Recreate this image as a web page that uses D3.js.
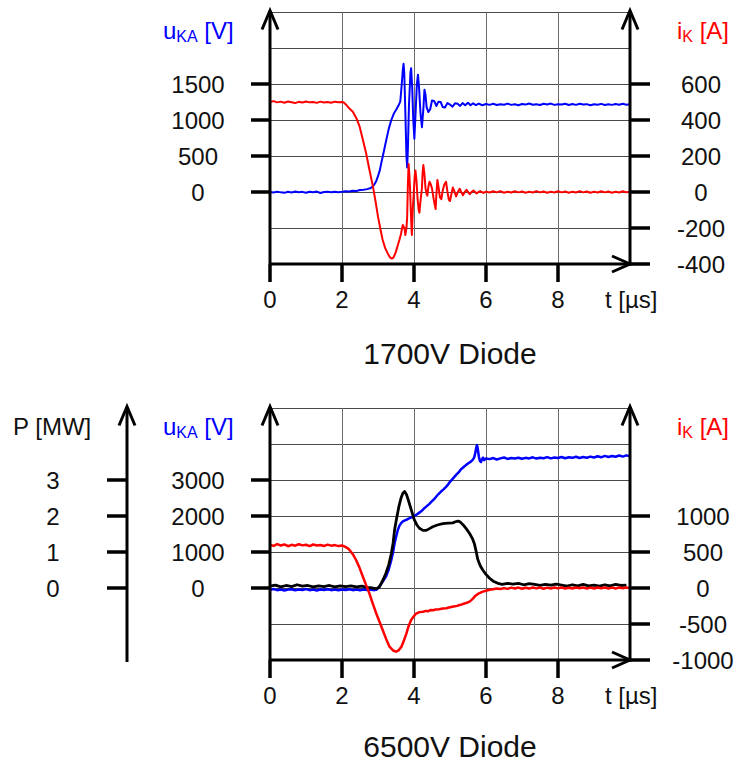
<!DOCTYPE html>
<html><head><meta charset="utf-8">
<script src="https://cdn.jsdelivr.net/npm/d3@7"></script>
<style>
html,body{margin:0;padding:0;background:#fff;}
svg{display:block;}
text{font-family:"Liberation Sans",Arial,sans-serif;}
</style></head>
<body>
<svg id="chart" width="736" height="762"></svg>
<script>
// ---------- DATA ----------
const timeTicks = [0, 2, 4, 6, 8];
const timeGrid = [2, 4, 6, 8];

// 1700V diode
const topVoltTicks = [0, 500, 1000, 1500];
const topCurrTicks = [-400, -200, 0, 200, 400, 600];
const topVoltGrid = [-500, 0, 500, 1000, 1500, 2000, 2500];
const topVoltage = [[0,0],[0.1,-8],[0.2,5],[0.3,-5],[0.4,-12],[0.5,3],[0.6,-6],[0.7,8],[0.8,-4],[0.9,2],[1.0,-10],[1.1,4],[1.2,-3],[1.3,6],[1.4,-14],[1.5,0],[1.6,5],[1.7,-4],[1.8,3],[1.9,-2],[2.0,2],
 [2.1,10],[2.2,6],[2.3,18],[2.4,15],[2.5,28],[2.6,32],[2.7,40],[2.8,55],[2.88,90],[2.95,150],[3.0,220],[3.05,300],[3.09,400],[3.16,560],[3.23,722],[3.3,880],[3.37,1000],[3.44,1090],[3.5,1140],[3.57,1200],[3.62,1260],[3.66,1500],[3.69,1700],[3.71,1780],[3.73,1650],[3.76,1100],[3.79,500],[3.81,340],[3.83,600],[3.86,1200],[3.9,1650],[3.92,1720],[3.95,1450],[3.98,1000],[4.01,740],[4.04,1050],[4.08,1500],[4.11,1630],[4.14,1450],[4.18,1100],[4.22,900],[4.26,1150],[4.29,1420],[4.32,1350],[4.35,1180],[4.4,1110],[4.45,1150],[4.5,1270],[4.56,1265],[4.62,1195],[4.68,1255],[4.74,1250],[4.8,1180],[4.86,1175],[4.93,1235],[5.0,1215],[5.07,1185],[5.14,1232],[5.21,1225],[5.28,1195],[5.35,1235],[5.42,1205],[5.5,1240],[5.57,1205],[5.64,1232],[5.72,1208],[5.8,1228],[5.9,1205],[6.0,1222],
 [6.1,1210],[6.2,1225],[6.3,1208],[6.4,1220],[6.5,1212],[6.6,1228],[6.7,1210],[6.8,1218],[6.9,1205],[7.0,1222],[7.1,1214],[7.2,1230],[7.3,1212],[7.4,1220],[7.5,1208],[7.6,1226],[7.7,1215],[7.8,1228],[7.9,1210],[8.0,1220],[8.1,1214],[8.2,1225],[8.3,1208],[8.4,1222],[8.5,1210],[8.6,1226],[8.7,1214],[8.8,1220],[8.9,1206],[9.0,1218],[9.1,1212],[9.2,1224],[9.3,1208],[9.4,1218],[9.5,1210],[9.6,1222],[9.7,1212],[9.8,1225],[9.9,1212],[10,1218]];
const topCurrent = [[0,500],[0.1,505],[0.2,498],[0.3,502],[0.4,496],[0.5,503],[0.6,499],[0.7,494],[0.8,501],[0.9,497],[1.0,503],[1.1,498],[1.2,500],[1.3,495],[1.4,502],[1.5,497],[1.6,500],[1.7,496],[1.8,502],[1.9,499],[2.0,500],[2.05,497],[2.1,488],[2.2,465],[2.3,446],[2.4,410],[2.49,363],[2.58,290],[2.67,215],[2.76,125],[2.86,30],[2.93,-50],[3.0,-137],[3.07,-210],[3.13,-267],[3.2,-312],[3.27,-341],[3.33,-362],[3.38,-370],[3.42,-366],[3.46,-352],[3.5,-330],[3.55,-296],[3.6,-262],[3.64,-232],[3.67,-200],[3.69,-183],[3.72,-195],[3.74,-205],[3.76,-239],[3.79,-200],[3.81,-140],[3.83,40],[3.85,155],[3.87,100],[3.89,20],[3.92,-150],[3.94,-239],[3.97,-80],[3.99,-17],[4.02,90],[4.04,120],[4.07,60],[4.1,-40],[4.13,-100],[4.15,-115],[4.18,-50],[4.22,20],[4.24,110],[4.26,150],[4.29,100],[4.32,20],[4.35,-10],[4.37,-20],[4.4,30],[4.43,57],[4.46,45],[4.5,20],[4.55,-44],[4.6,-95],[4.62,-20],[4.65,67],[4.68,30],[4.72,-30],[4.76,-40],[4.8,10],[4.84,40],[4.89,57],[4.93,0],[4.97,-45],[5.0,-50],[5.04,-10],[5.08,25],[5.12,5],[5.17,-25],[5.22,0],[5.27,18],[5.31,0],[5.36,-18],[5.41,0],[5.46,12],[5.5,0],[5.55,-12],[5.6,0],[5.65,8],[5.7,0],[5.74,-8],[5.79,0],[5.84,5],[5.88,0],[5.93,-5],[6.0,2],
 [6.1,-3],[6.2,4],[6.3,-2],[6.4,5],[6.5,-4],[6.6,2],[6.7,-3],[6.8,4],[6.9,-2],[7.0,3],[7.1,-4],[7.2,2],[7.3,-3],[7.4,5],[7.5,-2],[7.6,3],[7.7,-4],[7.8,2],[7.9,-3],[8.0,4],[8.1,-2],[8.2,3],[8.3,-4],[8.4,2],[8.5,-3],[8.6,5],[8.7,-2],[8.8,3],[8.9,-4],[9.0,2],[9.1,-3],[9.2,4],[9.3,-2],[9.4,3],[9.5,-4],[9.6,2],[9.7,-3],[9.8,4],[9.9,-2],[10,1]];

// 6500V diode
const botPowerTicks = [0, 1, 2, 3];
const botVoltTicks = [0, 1000, 2000, 3000];
const botCurrTicks = [-1000, -500, 0, 500, 1000];
const botVoltGrid = [-1000, 0, 1000, 2000, 3000, 4000, 5000];
const botVoltage = [[0,-50],[0.1,-30],[0.2,-60],[0.3,-40],[0.4,-70],[0.5,-45],[0.6,-35],[0.7,-65],[0.8,-40],[0.9,-55],[1.0,-30],[1.1,-60],[1.2,-45],[1.3,-70],[1.4,-40],[1.5,-55],[1.6,-35],[1.7,-60],[1.8,-45],[1.9,-65],[2.0,-40],[2.1,-55],[2.2,-35],[2.3,-60],[2.4,-45],[2.5,-65],[2.6,-40],[2.7,-55],[2.8,-45],[2.9,-60],[2.97,-40],[3.04,40],[3.1,130],[3.16,220],[3.22,314],[3.3,520],[3.37,780],[3.42,1000],[3.46,1240],[3.51,1450],[3.55,1610],[3.6,1740],[3.65,1810],[3.69,1850],[3.75,1880],[3.82,1910],[3.88,1940],[3.95,1970],[4.0,2000],[4.06,2030],[4.13,2080],[4.2,2130],[4.27,2200],[4.34,2260],[4.42,2330],[4.5,2410],[4.56,2470],[4.62,2540],[4.68,2610],[4.75,2680],[4.82,2740],[4.89,2810],[4.95,2880],[5.0,2950],[5.08,3040],[5.17,3140],[5.24,3210],[5.3,3290],[5.38,3360],[5.45,3420],[5.52,3470],[5.58,3510],[5.63,3560],[5.67,3620],[5.7,3740],[5.73,3900],[5.75,3970],[5.77,3880],[5.8,3660],[5.83,3530],[5.86,3500],[5.89,3580],[5.92,3620],[5.95,3550],[6.0,3600],
 [6.1,3580],[6.2,3610],[6.3,3570],[6.4,3600],[6.5,3625],[6.6,3585],[6.7,3610],[6.8,3595],[6.9,3620],[7.0,3590],[7.1,3615],[7.2,3600],[7.3,3630],[7.4,3595],[7.5,3620],[7.6,3605],[7.7,3635],[7.8,3600],[7.9,3625],[8.0,3610],[8.1,3640],[8.2,3605],[8.3,3630],[8.4,3615],[8.5,3645],[8.6,3610],[8.7,3640],[8.8,3620],[8.9,3650],[9.0,3625],[9.1,3660],[9.2,3630],[9.3,3670],[9.4,3640],[9.5,3665],[9.6,3645],[9.7,3680],[9.8,3650],[9.9,3685],[10,3660]];
const botCurrent = [[0,600],[0.1,585],[0.2,610],[0.3,590],[0.4,605],[0.5,580],[0.6,600],[0.7,588],[0.8,608],[0.9,592],[1.0,600],[1.1,582],[1.2,604],[1.3,590],[1.4,598],[1.5,584],[1.6,602],[1.7,588],[1.8,596],[1.9,582],[2.0,590],[2.08,575],[2.15,555],[2.21,528],[2.3,470],[2.39,389],[2.48,290],[2.58,157],[2.67,40],[2.76,-74],[2.85,-210],[2.95,-351],[3.05,-480],[3.13,-583],[3.22,-700],[3.32,-815],[3.42,-868],[3.5,-885],[3.58,-862],[3.65,-815],[3.72,-730],[3.79,-629],[3.85,-530],[3.92,-444],[4.0,-390],[4.06,-355],[4.15,-335],[4.25,-330],[4.33,-318],[4.4,-322],[4.47,-305],[4.53,-308],[4.6,-298],[4.7,-296],[4.8,-285],[4.89,-282],[5.0,-268],[5.1,-258],[5.2,-248],[5.26,-236],[5.33,-228],[5.4,-215],[5.47,-205],[5.54,-190],[5.6,-165],[5.65,-140],[5.7,-110],[5.75,-92],[5.82,-70],[5.91,-51],[6.0,-38],[6.1,-25],[6.19,-18],[6.3,-8],[6.4,-15],[6.5,-2],[6.6,-12],[6.7,5],[6.8,-8],[6.9,6],[7.0,-10],[7.1,4],[7.2,-8],[7.3,8],[7.4,-5],[7.5,6],[7.6,-10],[7.7,5],[7.8,-6],[7.9,8],[8.0,-5],[8.1,7],[8.2,-8],[8.3,4],[8.4,-6],[8.5,8],[8.6,-4],[8.7,6],[8.8,-8],[8.9,5],[9.0,-6],[9.1,8],[9.2,-4],[9.3,6],[9.4,-8],[9.5,5],[9.6,-6],[9.7,7],[9.8,-4],[9.9,6],[10,-2]];
const botPower = [[0,0.05],[0.15,0.08],[0.3,0.03],[0.45,0.07],[0.6,0.04],[0.75,0.09],[0.9,0.05],[1.05,0.07],[1.2,0.03],[1.35,0.06],[1.5,0.04],[1.65,0.07],[1.8,0.03],[1.95,0.06],[2.1,0.04],[2.25,0.06],[2.4,0.03],[2.55,0.05],[2.7,0.02],[2.85,0.0],[2.95,-0.02],[3.03,0.02],[3.09,0.13],[3.15,0.25],[3.22,0.41],[3.3,0.65],[3.37,0.96],[3.42,1.25],[3.46,1.61],[3.52,1.95],[3.58,2.26],[3.64,2.5],[3.69,2.63],[3.74,2.68],[3.79,2.6],[3.84,2.45],[3.9,2.25],[3.96,2.05],[4.01,1.89],[4.08,1.75],[4.15,1.66],[4.25,1.6],[4.34,1.6],[4.43,1.65],[4.52,1.7],[4.65,1.75],[4.8,1.79],[4.95,1.8],[5.08,1.81],[5.15,1.84],[5.22,1.86],[5.29,1.83],[5.36,1.76],[5.45,1.65],[5.54,1.52],[5.62,1.38],[5.68,1.22],[5.73,1.0],[5.77,0.8],[5.84,0.62],[5.91,0.5],[6.0,0.38],[6.1,0.27],[6.2,0.19],[6.33,0.13],[6.45,0.1],[6.6,0.13],[6.75,0.11],[6.9,0.13],[7.05,0.09],[7.2,0.12],[7.35,0.1],[7.5,0.07],[7.65,0.1],[7.8,0.08],[7.95,0.11],[8.1,0.08],[8.25,0.05],[8.4,0.09],[8.55,0.06],[8.7,0.1],[8.85,0.06],[9.0,0.08],[9.15,0.05],[9.3,0.09],[9.45,0.06],[9.6,0.1],[9.75,0.07],[9.9,0.08]];

// ---------- DRAW ----------
const svg = d3.select("#chart");
const BLUE = "#0000ff", RED = "#ff0000", INK = "#000";
const x = d3.scaleLinear().domain([0, 10]).range([270, 630]);

function upArrow(g, px, tipY) {
  g.append("path").attr("d", `M${px-8},${tipY+19} L${px},${tipY} L${px+8},${tipY+19}`)
    .attr("fill", "none").attr("stroke", INK).attr("stroke-width", 3);
}
function rightArrow(g, tipX, py) {
  g.append("path").attr("d", `M${tipX-18},${py-8} L${tipX},${py} L${tipX-18},${py+8}`)
    .attr("fill", "none").attr("stroke", INK).attr("stroke-width", 3);
}
function labelSub(g, px, py, main, sub, rest, color) {
  const t = g.append("text").attr("x", px).attr("y", py).attr("fill", color).attr("font-size", 24);
  t.append("tspan").text(main);
  if (sub) t.append("tspan").attr("font-size", 16).attr("dy", 3.5).text(sub);
  t.append("tspan").attr("font-size", 24).attr("dy", sub ? -3.5 : 0).text(rest);
}

function panel(cfg) {
  const g = svg.append("g");
  const yV = cfg.yV, yI = cfg.yI;
  const top = yV.range()[1], bot = yV.range()[0];
  // grid
  g.selectAll(".hg").data(cfg.voltGrid).join("line")
    .attr("x1", x(0)).attr("x2", x(10)).attr("y1", d => yV(d)+0.5).attr("y2", d => yV(d)+0.5)
    .attr("stroke", "#4a4a4a").attr("stroke-width", 1);
  g.selectAll(".vg").data(timeGrid).join("line")
    .attr("x1", d => x(d)+0.5).attr("x2", d => x(d)+0.5).attr("y1", top).attr("y2", bot)
    .attr("stroke", "#6a6a6a").attr("stroke-width", 1);
  // series
  cfg.series.forEach(s => {
    const line = d3.line().x(d => x(d[0])).y(d => s.scale(d[1]));
    g.append("path").datum(s.data).attr("d", line).attr("fill", "none")
      .attr("stroke", s.color).attr("stroke-width", s.width).attr("stroke-linejoin", "round");
  });
  // axes
  g.append("line").attr("x1", x(0)).attr("x2", x(0)).attr("y1", bot).attr("y2", top-1)
    .attr("stroke", INK).attr("stroke-width", 3);
  g.append("line").attr("x1", x(10)).attr("x2", x(10)).attr("y1", bot+1.5).attr("y2", top-1)
    .attr("stroke", INK).attr("stroke-width", 3);
  g.append("line").attr("x1", x(0)).attr("x2", x(10)).attr("y1", bot).attr("y2", bot)
    .attr("stroke", INK).attr("stroke-width", 3);
  upArrow(g, x(0), top-1.5);
  upArrow(g, x(10), top-1.5);
  rightArrow(g, x(10), bot);
  // x ticks
  g.selectAll(".xt").data(timeTicks).join("line")
    .attr("x1", d => x(d)).attr("x2", d => x(d)).attr("y1", bot).attr("y2", bot+18)
    .attr("stroke", INK).attr("stroke-width", 3.5);
  g.selectAll(".xl").data(timeTicks).join("text")
    .attr("x", d => x(d)).attr("y", bot+44).attr("text-anchor", "middle")
    .attr("font-size", 24).attr("fill", "#111").text(d => d);
  g.append("text").attr("x", 605).attr("y", bot+44).attr("font-size", 24).attr("fill", "#111").text("t [µs]");
  // left voltage ticks
  g.selectAll(".lt").data(cfg.voltTicks).join("line")
    .attr("x1", 251).attr("x2", x(0)).attr("y1", d => yV(d)).attr("y2", d => yV(d))
    .attr("stroke", INK).attr("stroke-width", 3.5);
  g.selectAll(".ll").data(cfg.voltTicks).join("text")
    .attr("x", 198).attr("y", d => yV(d)).attr("dy", "0.36em").attr("text-anchor", "middle")
    .attr("font-size", 24).attr("fill", "#111").text(d => d);
  // right current ticks
  g.selectAll(".rt").data(cfg.currTicks).join("line")
    .attr("x1", x(10)).attr("x2", 650).attr("y1", d => yI(d)).attr("y2", d => yI(d))
    .attr("stroke", INK).attr("stroke-width", 3.5);
  g.selectAll(".rl").data(cfg.currTicks).join("text")
    .attr("x", cfg.rightLabelX).attr("y", d => yI(d)).attr("dy", "0.36em").attr("text-anchor", "middle")
    .attr("font-size", 24).attr("fill", "#111").text(d => d);
  // axis titles
  labelSub(g, 163, top+26.5, "u", "KA", " [V]", BLUE);
  labelSub(g, 677, top+26.5, "i", "K", " [A]", RED);
  g.append("text").attr("x", 450).attr("y", cfg.titleY).attr("text-anchor", "middle")
    .attr("font-size", 30).attr("fill", "#111").text(cfg.title);
  return g;
}

// Top panel
const yTopV = d3.scaleLinear().domain([-1000, 2500]).range([264, 12]);
const yTopI = d3.scaleLinear().domain([-400, 1000]).range([264, 12]);
panel({
  yV: yTopV, yI: yTopI, voltGrid: topVoltGrid, voltTicks: topVoltTicks, currTicks: topCurrTicks,
  rightLabelX: 701, title: "1700V Diode", titleY: 364,
  series: [
    {data: topVoltage, scale: yTopV, color: BLUE, width: 2},
    {data: topCurrent, scale: yTopI, color: RED, width: 2}
  ]
});

// Bottom panel
const yBotV = d3.scaleLinear().domain([-2000, 5000]).range([660, 408]);
const yBotI = d3.scaleLinear().domain([-1000, 2500]).range([660, 408]);
const yBotP = d3.scaleLinear().domain([-2, 5]).range([660, 408]);
const gb = panel({
  yV: yBotV, yI: yBotI, voltGrid: botVoltGrid, voltTicks: botVoltTicks, currTicks: botCurrTicks,
  rightLabelX: 703, title: "6500V Diode", titleY: 757,
  series: [
    {data: botVoltage, scale: yBotV, color: BLUE, width: 2.5},
    {data: botPower, scale: yBotP, color: INK, width: 2.8},
    {data: botCurrent, scale: yBotI, color: RED, width: 2.5}
  ]
});
// Power axis
gb.append("line").attr("x1", 127).attr("x2", 127).attr("y1", 662).attr("y2", 407)
  .attr("stroke", INK).attr("stroke-width", 3);
upArrow(gb, 127, 406.5);
gb.selectAll(".pt").data(botPowerTicks).join("line")
  .attr("x1", 107).attr("x2", 127).attr("y1", d => yBotP(d)).attr("y2", d => yBotP(d))
  .attr("stroke", INK).attr("stroke-width", 3.5);
gb.selectAll(".pl").data(botPowerTicks).join("text")
  .attr("x", 53).attr("y", d => yBotP(d)).attr("dy", "0.36em").attr("text-anchor", "middle")
  .attr("font-size", 24).attr("fill", "#111").text(d => d);
labelSub(gb, 13, 434.5, "P [MW]", null, "", "#111");
</script>
</body></html>
